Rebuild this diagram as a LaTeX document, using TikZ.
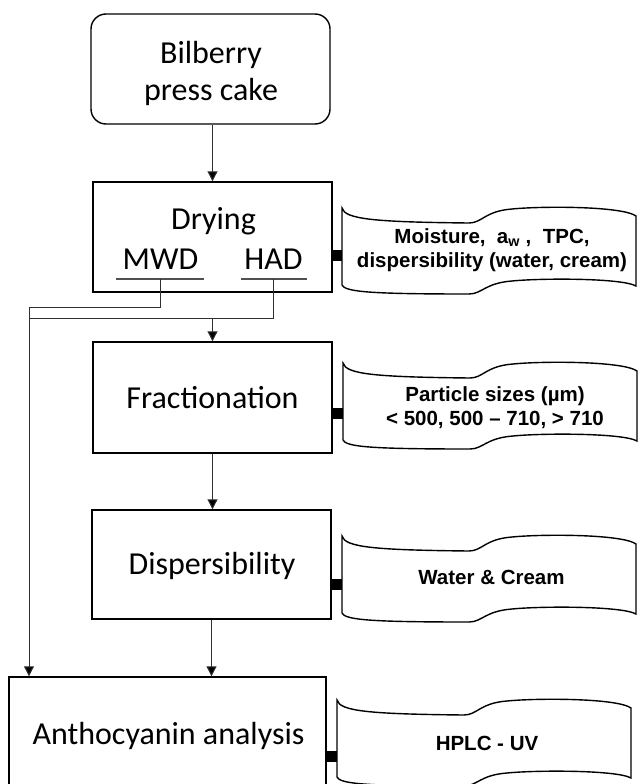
\documentclass[tikz,border=0pt]{standalone}
\usepackage{fontspec}
\setmainfont{Carlito}
\newfontfamily\tapefont{Liberation Sans}
\usetikzlibrary{arrows.meta}
\definecolor{linegray}{HTML}{303030}
\definecolor{ulgray}{HTML}{505050}
\begin{document}
\begin{tikzpicture}[x=1pt,y=-1pt,
  box/.style={draw=black,line width=1.4pt,minimum width=239pt,minimum height=110pt,inner sep=0pt,align=center,font=\fontsize{32}{37}\selectfont},
  lbl/.style={inner sep=0pt,align=center,font=\fontsize{32}{37}\selectfont},
  tapetext/.style={inner sep=0pt,align=center,font=\tapefont\bfseries\fontsize{20.5}{24}\selectfont},
  tapeline/.style={draw=black,line width=1.4pt,fill=white},
  link/.style={draw=linegray,line width=1pt},
  arr/.style={draw=linegray,line width=1pt,-{Triangle[width=10pt,length=10pt,fill=black]}},
  conn/.style={draw=black,line width=11pt},
  ul/.style={draw=ulgray,line width=1.3pt},
  tape/.pic={\path[tapeline] (0,0) .. controls (3,11) and (30,14) .. (127,15) .. controls (140,15) and (143,3) .. (170,1) .. controls (200,-2) and (280,-2) .. (294,8) -- (294,78) .. controls (280,70) and (200,70) .. (170,73) .. controls (143,75) and (140,86) .. (127,86) .. controls (30,86) and (3,84) .. (0,77) -- cycle;}
]
\clip (0,0) rectangle (640,784);
\fill[white] (0,0) rectangle (640,784);

% boxes
\node[box,rounded corners=15pt] (bil) at (210.5,69) {};
\node[lbl] (bilt) at (211,73) {Bilberry\\press cake};
\node[box] (drying) at (212.5,237) {};
\node[lbl] (dryt) at (213.5,221) {Drying};
\node[lbl] (mwd) at (160.5,259) {MWD};
\node[lbl] (had) at (273.5,259) {HAD};
\node[box,minimum height=111pt] (frac) at (212.5,397.5) {};
\node[lbl] (fract) at (212.5,398) {Fractionation};
\node[box,minimum height=109pt] (disp) at (211.5,564.5) {};
\node[lbl] (dispt) at (212,566) {Dispersibility};
\node[box,minimum width=317pt,minimum height=116pt] (anth) at (167.5,735) {};
\node[lbl] (antht) at (168.5,736) {Anthocyanin analysis};

% underlines
\coordinate (mwdl) at (116,279);
\coordinate (mwdr) at (204,279);
\coordinate (mwdm) at (160,279);
\coordinate (hadl) at (241,279);
\coordinate (hadr) at (307,279);
\coordinate (hadm) at (273,279);
\draw[ul] (mwdl) -- (mwdr);
\draw[ul] (hadl) -- (hadr);

% junctions
\coordinate (j1) at (29,307);
\coordinate (j2) at (29,318);

% connectors
\draw[arr] (bil.south -| drying.north) -- (drying.north);
\draw[link] (mwdm) |- (j1);
\draw[arr] (j1) -- (j1 |- anth.north);
\draw[link] (hadm) |- (j2);
\draw[arr] (frac.north |- j2) -- (frac.north);
\draw[arr] (frac.south) -- (disp.north -| frac.south);
\draw[arr] (disp.south) -- (disp.south |- anth.north);

% tapes
\pic at (342,208) {tape};
\pic at (343,363) {tape};
\pic at (342,536) {tape};
\pic at (337,700) {tape};

\node[tapetext] (t1) at (492,250) {Moisture,\ \ a\textsubscript{w}\ ,\ \ TPC,\\dispersibility (water, cream)};
\node[tapetext] (t2) at (495,408) {Particle sizes (µm)\\< 500, 500 – 710, > 710};
\node[tapetext] (t3) at (491.5,577) {Water \& Cream};
\node[tapetext] (t4) at (487,743) {HPLC - UV};

% side connectors
\coordinate (t1w) at (342,255);
\coordinate (t2w) at (343,413.5);
\coordinate (t3w) at (342,584.5);
\coordinate (t4w) at (337,756);
\draw[conn] (drying.east |- t1w) -- (t1w);
\draw[conn] (frac.east |- t2w) -- (t2w);
\draw[conn] (disp.east |- t3w) -- (t3w);
\draw[conn] (anth.east |- t4w) -- (t4w);
\end{tikzpicture}
\end{document}
